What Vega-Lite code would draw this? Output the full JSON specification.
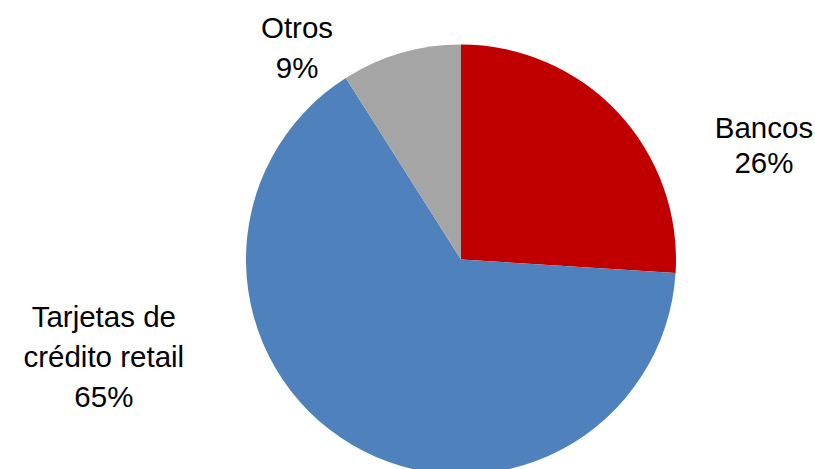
{
  "$schema": "https://vega.github.io/schema/vega-lite/v6.json",
  "autosize": "none",
  "width": 428,
  "height": 428,
  "padding": {"left": 247, "top": 45.5, "right": 140, "bottom": 0},
  "background": "white",
  "config": {"view": {"stroke": null}},
  "data": {
    "values": [
      {"categoria": "Bancos", "valor": 26, "orden": 1, "etiqueta": "Bancos\n26%"},
      {"categoria": "Tarjetas de crédito retail", "valor": 65, "orden": 2, "etiqueta": "Tarjetas de\ncrédito retail\n65%"},
      {"categoria": "Otros", "valor": 9, "orden": 3, "etiqueta": "Otros\n9%"}
    ]
  },
  "encoding": {
    "theta": {"field": "valor", "type": "quantitative", "stack": true},
    "order": {"field": "orden", "type": "quantitative"}
  },
  "layer": [
    {
      "mark": {"type": "arc", "outerRadius": 215},
      "encoding": {
        "color": {
          "field": "categoria",
          "type": "nominal",
          "scale": {
            "domain": ["Bancos", "Tarjetas de crédito retail", "Otros"],
            "range": ["#C00000", "#4F81BD", "#A5A5A5"]
          },
          "legend": null
        }
      }
    },
    {
      "mark": {"type": "text", "radius": 240, "dx": 128, "dy": 43, "align": "center", "baseline": "alphabetic", "lineBreak": "\n", "lineHeight": 35, "font": "Liberation Sans", "fontSize": 29.5, "color": "black"},
      "encoding": {
        "text": {"condition": {"test": "datum.categoria === 'Bancos'", "field": "etiqueta"}, "value": ""}
      }
    },
    {
      "mark": {"type": "text", "radius": 240, "dx": -97, "dy": 9, "align": "center", "baseline": "alphabetic", "lineBreak": "\n", "lineHeight": 40, "font": "Liberation Sans", "fontSize": 29.5, "color": "black"},
      "encoding": {
        "text": {"condition": {"test": "datum.categoria === 'Otros'", "field": "etiqueta"}, "value": ""}
      }
    },
    {
      "mark": {"type": "text", "radius": 240, "dx": -235, "dy": -139, "align": "center", "baseline": "alphabetic", "lineBreak": "\n", "lineHeight": 40, "font": "Liberation Sans", "fontSize": 29.5, "color": "black"},
      "encoding": {
        "text": {"condition": {"test": "datum.categoria === 'Tarjetas de crédito retail'", "field": "etiqueta"}, "value": ""}
      }
    }
  ]
}
